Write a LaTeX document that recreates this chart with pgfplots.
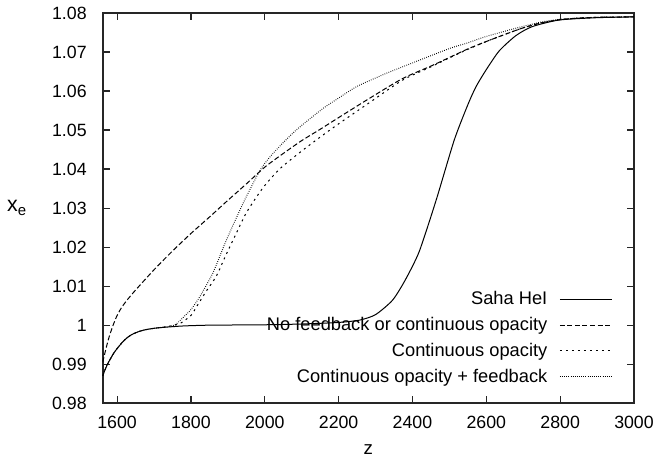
\documentclass[border=0pt]{standalone}
\usepackage{fontspec}
\setmainfont{Liberation Sans}
\usepackage{pgfplots}
\pgfplotsset{compat=1.18}
\begin{document}
\begin{tikzpicture}
\begin{axis}[
  name=ax,
  scale only axis,
  width=398.25pt, height=292.5pt,
  xmin=1561, xmax=3000, ymin=0.98, ymax=1.08,
  xtick={1600,1800,2000,2200,2400,2600,2800,3000},
  ytick={0.98,0.99,1,1.01,1.02,1.03,1.04,1.05,1.06,1.07,1.08},
  yticklabels={0.98,0.99,1,1.01,1.02,1.03,1.04,1.05,1.06,1.07,1.08},
  xticklabels={1600,1800,2000,2200,2400,2600,2800,3000},
  tick align=inside, tick pos=both,
  major tick length=5.25pt,
  axis line style={line width=1.3pt, black!85},
  every tick/.style={line width=0.9pt, black!85},
  xticklabel style={font=\fontsize{13.3}{15}\selectfont, yshift=-6.5pt},
  yticklabel style={font=\fontsize{13.3}{15}\selectfont, xshift=-8.5pt},
  xlabel={z}, ylabel={x\textsubscript{e}},
  every axis x label/.style={at={(axis description cs:0.5,0)}, anchor=center, yshift=-34.5pt, font=\fontsize{14}{15}\selectfont},
  every axis y label/.style={at={(axis description cs:-0.1615,0.5)}, anchor=center, font=\fontsize{16}{18}\selectfont},
  legend style={draw=none, fill=none, at={(1,0)}, anchor=south east, xshift=-13pt, yshift=10pt,
    font=\fontsize{13.7}{15}\selectfont, row sep=3.9pt},
  legend cell align=right,
  legend plot pos=right,
  legend image code/.code={\path (0pt,0pt); \draw[#1] (7pt,0pt) -- (46pt,0pt);},
]
\addplot[black, line width=0.75pt, smooth, tension=0.4] coordinates {
(1561,0.9870) (1567,0.9885) (1575,0.9902) (1590,0.9927) (1600,0.9940) (1615,0.9957) (1630,0.9970) (1644,0.9978)
(1660,0.9984) (1675,0.9988) (1700,0.9992) (1734,0.9995) (1780,0.9998) (1850,1.0000) (2000,1.0001) (2100,1.0003)
(2200,1.0007) (2257,1.0013) (2300,1.0027) (2346,1.0064) (2380,1.0115) (2418,1.0188) (2464,1.0320)
(2513,1.0474) (2550,1.0565) (2572,1.0611) (2600,1.0655) (2635,1.0703) (2680,1.0742) (2724,1.0765)
(2797,1.0782) (2900,1.0788) (3000,1.0790)};
\addlegendentry{Saha HeI}
\addplot[black, line width=0.75pt, dash pattern=on 3.75pt off 1.9pt, smooth, tension=0.4] coordinates {
(1561,0.9905) (1566,0.9925) (1572,0.9948) (1580,0.9975) (1590,1.0002) (1600,1.0025) (1612,1.0045) (1625,1.0062)
(1650,1.0090) (1700,1.0142)
(1750,1.0190) (1800,1.0235) (1850,1.0277) (1900,1.0320) (1950,1.0362) (2000,1.0405) (2050,1.0440)
(2100,1.0473) (2150,1.0502) (2200,1.0532) (2283,1.0581) (2373,1.0632) (2450,1.0664) (2500,1.0686)
(2550,1.0708) (2600,1.0727) (2650,1.0745) (2700,1.0762) (2750,1.0775) (2800,1.0783) (2850,1.0787)
(2900,1.0789) (3000,1.0790)};
\addlegendentry{No feedback or continuous opacity}
\addplot[black, line width=0.75pt, dash pattern=on 1.5pt off 3pt, smooth, tension=0.4] coordinates {
(1561,0.9870) (1567,0.9885) (1575,0.9902) (1590,0.9927) (1600,0.9940) (1615,0.9957) (1630,0.9970) (1644,0.9978)
(1660,0.9984) (1675,0.9988) (1700,0.9992) (1740,0.9997) (1770,1.0004) (1800,1.0025) (1815,1.0047) (1840,1.0085)
(1869,1.0126) (1890,1.0170) (1914,1.0218) (1950,1.0288) (1995,1.0352) (2040,1.0400) (2094,1.0442)
(2150,1.0482) (2200,1.0516) (2283,1.0570) (2373,1.0628) (2450,1.0662) (2500,1.0685) (2550,1.0707)
(2600,1.0727) (2650,1.0745) (2700,1.0762) (2750,1.0775) (2800,1.0783) (2850,1.0787) (2900,1.0789)
(3000,1.0790)};
\addlegendentry{Continuous opacity}
\addplot[black, line width=0.75pt, dash pattern=on 0.5pt off 1.1pt, smooth, tension=0.4] coordinates {
(1561,0.9870) (1567,0.9885) (1575,0.9902) (1590,0.9927) (1600,0.9940) (1615,0.9957) (1630,0.9970) (1644,0.9978)
(1660,0.9984) (1675,0.9988) (1700,0.9992) (1743,0.9997) (1760,1.0003) (1779,1.0020) (1800,1.0040) (1824,1.0073)
(1860,1.0135) (1896,1.0218) (1941,1.0312) (1986,1.0395) (2013,1.0430) (2050,1.0468) (2085,1.0500)
(2121,1.0528) (2160,1.0557) (2200,1.0582) (2250,1.0612) (2328,1.0645) (2400,1.0672) (2500,1.0709) (2545,1.0722)
(2600,1.0740) (2680,1.0761) (2750,1.0777) (2800,1.0784) (2900,1.0789) (3000,1.0790)};
\addlegendentry{Continuous opacity + feedback}
\end{axis}
\pgfresetboundingbox
\path ([shift={(-77pt,-41.25pt)}]ax.south west) rectangle ([shift={(18pt,9.75pt)}]ax.north east);
\end{tikzpicture}
\end{document}
